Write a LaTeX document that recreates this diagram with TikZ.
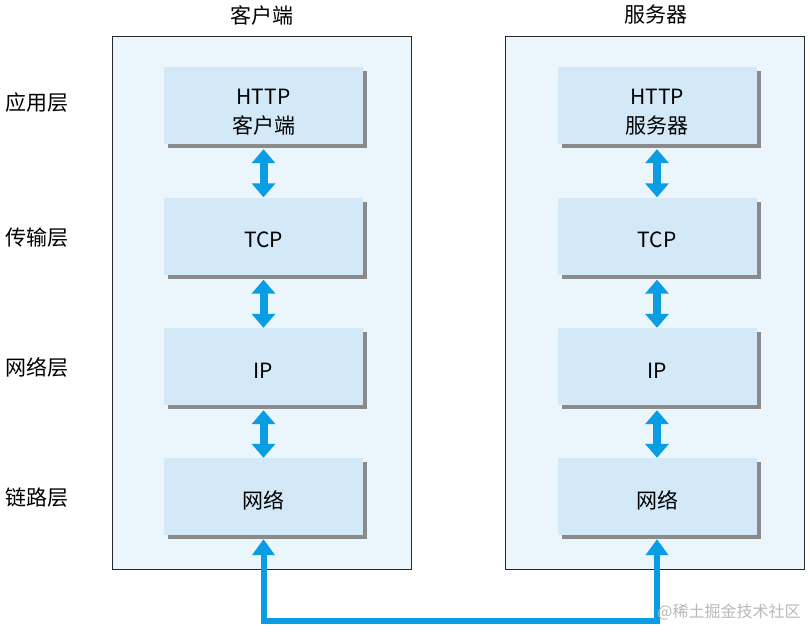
\documentclass[tikz,border=0pt]{standalone}
\usepackage{fontspec}
\setmainfont{Noto Sans CJK SC}
\usetikzlibrary{arrows.meta,shadows}
\definecolor{panelbg}{HTML}{EAF5FC}
\definecolor{boxbg}{HTML}{D3E9F7}
\definecolor{shadowgray}{HTML}{8A8A8A}
\definecolor{arrowblue}{HTML}{0A9DE3}
\definecolor{wmgray}{HTML}{B8B8B8}
\begin{document}
\begin{tikzpicture}[x=1pt,y=-1pt,
  panel/.style={draw=black!85, line width=1pt, fill=panelbg, minimum width=299pt, minimum height=532pt, inner sep=0pt},
  layerbox/.style={fill=boxbg, minimum width=199pt, minimum height=77pt, inner sep=0pt,
    general shadow={fill=shadowgray, shadow xshift=4pt, shadow yshift=-4pt}},
  boxtext/.style={align=center, inner sep=0pt, yshift=-4pt, font=\fontsize{21}{29}\selectfont},
  lbl/.style={font=\fontsize{21}{26}\selectfont, inner sep=0pt},
  dbl/.style={draw=arrowblue, line width=8pt, {Triangle[width=23pt,length=14pt]}-{Triangle[width=23pt,length=14pt]}},
  conn/.style={draw=arrowblue, line width=6pt, miter limit=10, {Triangle[width=22pt,length=16pt]}-{Triangle[width=22pt,length=16pt]}}
]
\useasboundingbox (0,0) rectangle (810,631);
\node[panel] (lp) at (261.5,303) {};
\node[panel] (rp) at (655,303) {};
\node[lbl] (lt) at (262,15) {客户端};
\node[lbl] (rt) at (656,15) {服务器};

\node[lbl] (l1) at (37,103) {应用层};
\node[lbl] (l2) at (37,238) {传输层};
\node[lbl] (l3) at (37,367) {网络层};
\node[lbl] (l4) at (37,498) {链路层};

\node[layerbox] (la) at (263.5,105.5) {};
\node[layerbox] (lb) at (263.5,236) {};
\node[layerbox] (lc) at (263.5,366.5) {};
\node[layerbox] (ld) at (263.5,496.5) {};
\node[layerbox] (ra) at (657,105.5) {};
\node[layerbox] (rb) at (657,236) {};
\node[layerbox] (rc) at (657,366.5) {};
\node[layerbox] (rd) at (657,496.5) {};

\node[boxtext, yshift=-3pt] (lat) at (la) {HTTP\\客户端};
\node[boxtext] (lbt) at (lb) {TCP};
\node[boxtext] (lct) at (lc) {IP};
\node[boxtext] (ldt) at (ld) {网络};
\node[boxtext, yshift=-3pt] (rat) at (ra) {HTTP\\服务器};
\node[boxtext] (rbt) at (rb) {TCP};
\node[boxtext] (rct) at (rc) {IP};
\node[boxtext] (rdt) at (rd) {网络};

\draw[dbl] ([yshift=-5pt]la.south) -- (lb.north);
\draw[dbl] ([yshift=-5pt]lb.south) -- (lc.north);
\draw[dbl] ([yshift=-5pt]lc.south) -- (ld.north);
\draw[dbl] ([yshift=-5pt]ra.south) -- (rb.north);
\draw[dbl] ([yshift=-5pt]rb.south) -- (rc.north);
\draw[dbl] ([yshift=-5pt]rc.south) -- (rd.north);

\coordinate (bl) at (262,621);
\draw[conn] ([yshift=-4pt]ld.south) -- (ld.south |- bl) -- (rd.south |- bl) -- ([yshift=-4pt]rd.south);

\node[font=\fontsize{16}{18}\selectfont, text=wmgray, inner sep=0pt] (wm) at (729,612) {@稀土掘金技术社区};
\end{tikzpicture}
\end{document}
